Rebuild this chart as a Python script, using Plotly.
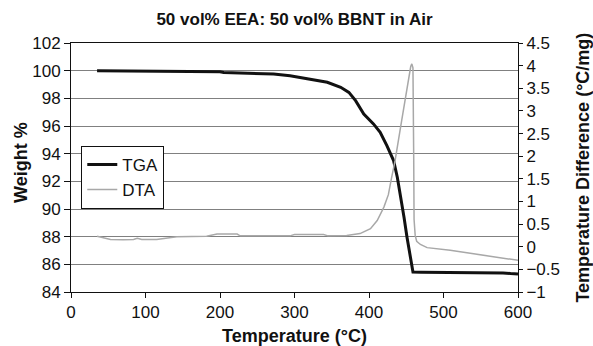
import plotly.graph_objects as go

# TGA (weight %) vs temperature
tga_T = [35, 80, 120, 125, 200, 205, 234, 272, 294, 321, 344, 362, 373, 382, 393, 406,
         415, 424, 433, 438, 442, 447, 451, 455, 459, 470, 500, 550, 580, 590, 600]
tga_W = [100.0, 99.99, 99.97, 99.93, 99.92, 99.87, 99.8, 99.76, 99.64, 99.4, 99.16, 98.8,
         98.43, 97.83, 96.87, 96.15, 95.55, 94.58, 93.5, 92.3, 90.85, 89.4, 87.96, 86.52,
         85.44, 85.43, 85.42, 85.4, 85.38, 85.33, 85.3]

# DTA (temperature difference, °C/mg) vs temperature
dta_T = [35, 45, 53, 70, 84, 89, 95, 115, 142, 182, 196, 223, 227, 294, 300, 339, 345,
         370, 388, 402, 411, 420, 426, 430, 435, 444, 452, 456, 457.5, 459, 460, 460.5,
         462, 464, 469, 478, 509, 554, 600]
dta_D = [0.23, 0.2, 0.16, 0.155, 0.16, 0.185, 0.16, 0.16, 0.218, 0.23, 0.28, 0.28, 0.24,
         0.24, 0.27, 0.27, 0.24, 0.25, 0.29, 0.4, 0.58, 0.875, 1.15, 1.5, 1.9, 2.8, 3.6,
         3.98, 4.04, 3.95, 2.0, 0.6, 0.25, 0.12, 0.05, -0.02, -0.08, -0.19, -0.30]

x_ticks = [0, 100, 200, 300, 400, 500, 600]
left_ticks = [84, 86, 88, 90, 92, 94, 96, 98, 100, 102]
right_ticks = [-1, -0.5, 0, 0.5, 1, 1.5, 2, 2.5, 3, 3.5, 4, 4.5]

FONT = "Liberation Sans, Arial, sans-serif"

fig = go.Figure()
fig.add_trace(go.Scatter(x=tga_T, y=tga_W, mode="lines", name="TGA",
                         line=dict(color="#111111", width=3)))
fig.add_trace(go.Scatter(x=dta_T, y=dta_D, mode="lines", name="DTA", yaxis="y2",
                         line=dict(color="#a8a8a8", width=1.5)))

fig.update_layout(
    width=593, height=346,
    margin=dict(l=71, r=75, t=43, b=54),
    paper_bgcolor="white", plot_bgcolor="white",
    font=dict(family=FONT, size=17, color="#111111"),
    title=dict(text="<b>50 vol% EEA: 50 vol% BBNT in Air</b>", x=0.5, xref="paper",
               y=1 - 19 / 346, yref="container", yanchor="middle", xanchor="center",
               font=dict(size=17)),
    showlegend=True,
    legend=dict(x=0.023, y=0.587, xanchor="left", yanchor="top",
                bgcolor="white", bordercolor="#111111", borderwidth=1,
                font=dict(size=17), itemwidth=30, tracegroupgap=0),
    xaxis=dict(range=[0, 600], tickvals=x_ticks, ticks="outside", ticklen=5,
               tickcolor="#111111", showline=True, linecolor="#111111", linewidth=1,
               mirror=True, showgrid=False, zeroline=False,
               tickfont=dict(size=17)),
    yaxis=dict(range=[84, 102], tickvals=left_ticks, ticks="outside", ticklen=6,
               tickcolor="#111111", showline=True, linecolor="#111111", linewidth=1,
               showgrid=True, gridcolor="#808080", gridwidth=1, zeroline=False,
               tickfont=dict(size=17)),
    yaxis2=dict(range=[-1, 4.5], tickvals=right_ticks, overlaying="y", side="right",
                ticks="outside", ticklen=4, tickcolor="#111111", showline=True,
                linecolor="#111111", linewidth=1, showgrid=False, zeroline=False,
                tickfont=dict(size=17)),
    annotations=[
        dict(text="<b>Temperature (°C)</b>", x=0.5, y=-0.178, xref="paper", yref="paper",
             xanchor="center", yanchor="middle", showarrow=False, font=dict(size=18)),
        dict(text="<b>Weight %</b>", x=-0.1133, y=0.5195, xref="paper", yref="paper",
             xanchor="center", yanchor="middle", textangle=-90, showarrow=False,
             font=dict(size=18)),
        dict(text="<b>Temperature Difference (°C/mg)</b>", x=1.1434, y=0.5,
             xref="paper", yref="paper", xanchor="center", yanchor="middle",
             textangle=-90, showarrow=False, font=dict(size=18)),
    ],
)

fig.write_html("out.html")
